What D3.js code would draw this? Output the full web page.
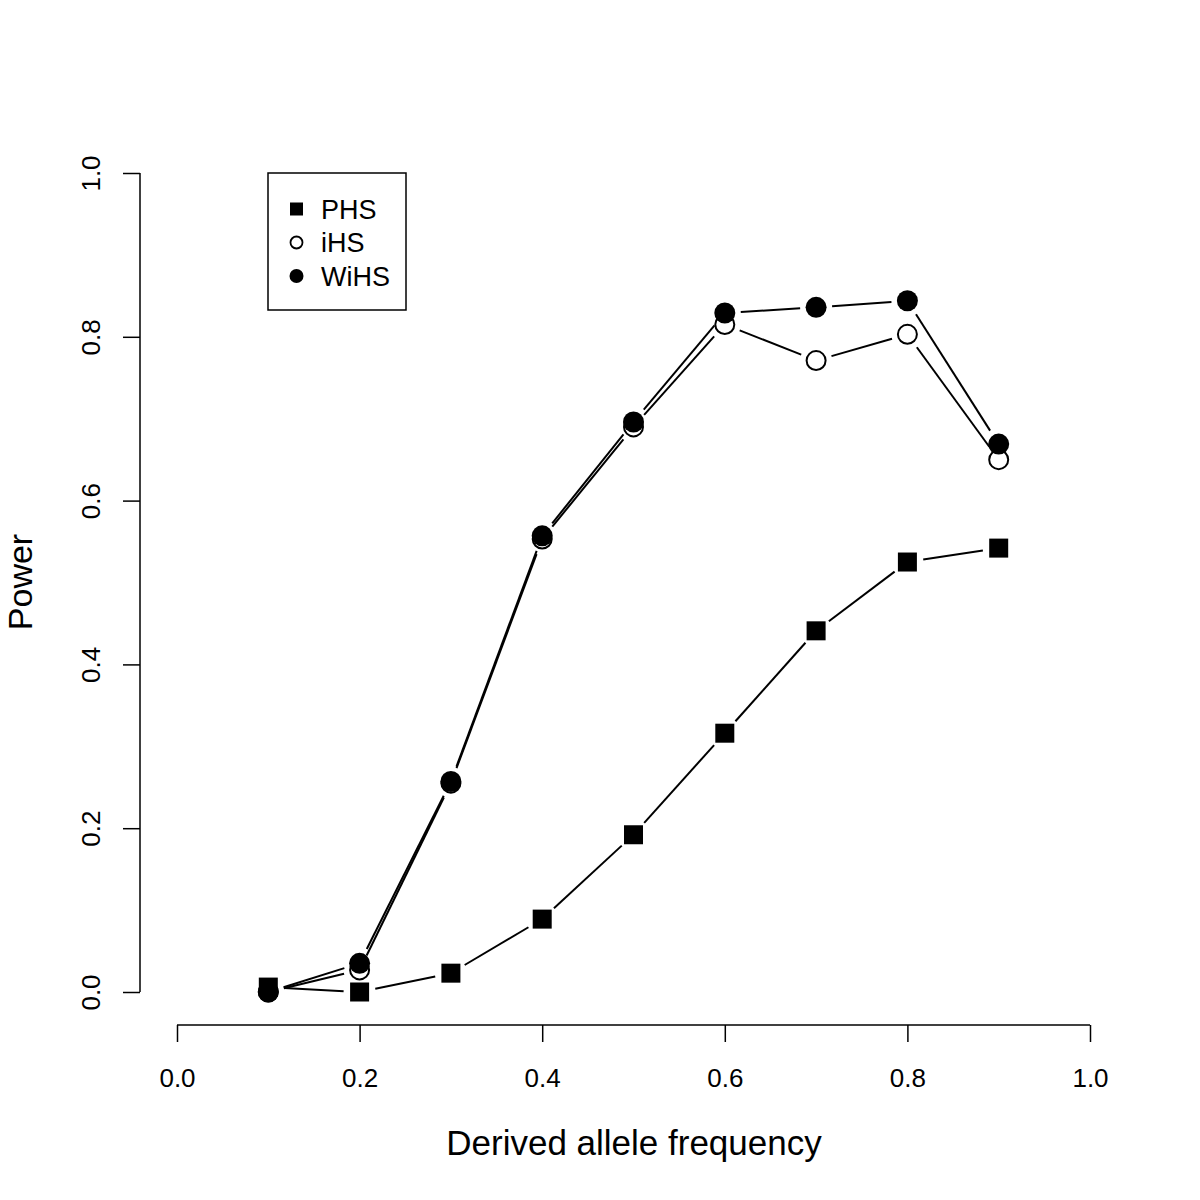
<!DOCTYPE html>
<html>
<head>
<meta charset="utf-8">
<script src="https://cdn.jsdelivr.net/npm/d3@7"></script>
<style>
  body { margin: 0; background: #fff; }
  svg text { font-family: "Liberation Sans", Arial, Helvetica, sans-serif; fill: #000; }
</style>
</head>
<body>
<svg id="chart"></svg>
<script>
// data
const freq = [0.1, 0.2, 0.3, 0.4, 0.5, 0.6, 0.7, 0.8, 0.9];
const phs  = [0.006, 0.0, 0.023, 0.089, 0.192, 0.316, 0.441, 0.525, 0.542];
const ihs  = [0.0, 0.027, 0.255, 0.553, 0.690, 0.815, 0.771, 0.803, 0.650];
const wihs = [0.0, 0.035, 0.257, 0.557, 0.696, 0.829, 0.836, 0.844, 0.669];
const xTicks = [0, 0.2, 0.4, 0.6, 0.8, 1.0];
const yTicks = [0, 0.2, 0.4, 0.6, 0.8, 1.0];
const seriesNames = ["PHS", "iHS", "WiHS"];

const canvasWidth = 1200;
const canvasHeight = 1200;

let svg = d3.select("#chart")
  .attr("width", canvasWidth)
  .attr("height", canvasHeight);

let x_scale = d3.scaleLinear().domain([0, 1]).range([177, 1090]);
let y_scale = d3.scaleLinear().domain([0, 1]).range([992, 173]);

// axes (R style: detached, no full frame)
let x_axis = d3.axisBottom(x_scale).tickValues(xTicks).tickSize(17).tickPadding(0).tickFormat(d3.format(".1f"));
let gx = svg.append("g").attr("transform", "translate(0,1025)").call(x_axis);
gx.select(".domain").attr("d", "M177,0H1090").attr("stroke", "#000").attr("stroke-width", 1.5);
gx.selectAll(".tick line").attr("stroke", "#000").attr("stroke-width", 1.5);
gx.selectAll(".tick text")
  .attr("y", 53)
  .attr("dy", "0.35em")
  .style("font-size", "26px");

let y_axis = d3.axisLeft(y_scale).tickValues(yTicks).tickSize(17).tickFormat(d3.format(".1f"));
let gy = svg.append("g").attr("transform", "translate(140,0)").call(y_axis);
gy.select(".domain").attr("d", "M0,173V992").attr("stroke", "#000").attr("stroke-width", 1.5);
gy.selectAll(".tick line").attr("stroke", "#000").attr("stroke-width", 1.5);
gy.selectAll(".tick text")
  .attr("x", 0).attr("dy", 0)
  .attr("text-anchor", "middle")
  .attr("dominant-baseline", "central")
  .attr("transform", "translate(-49,0) rotate(-90)")
  .style("font-size", "26px");

svg.append("text")
  .attr("x", 634).attr("y", 1155)
  .attr("text-anchor", "middle")
  .style("font-size", "35px")
  .text("Derived allele frequency");

svg.append("text")
  .attr("transform", "translate(32,582) rotate(-90)")
  .attr("text-anchor", "middle")
  .style("font-size", "34px")
  .text("Power");

// type "b": segments with gaps around the points
const gap = 16;
function drawGappedLine(values, cls) {
  let pts = freq.map((f, i) => [x_scale(f), y_scale(values[i])]);
  let segs = [];
  for (let i = 0; i < pts.length - 1; i++) {
    let [x1, y1] = pts[i], [x2, y2] = pts[i + 1];
    let len = Math.hypot(x2 - x1, y2 - y1);
    if (len <= 2 * gap) continue;
    let ux = (x2 - x1) / len, uy = (y2 - y1) / len;
    segs.push([x1 + ux * gap, y1 + uy * gap, x2 - ux * gap, y2 - uy * gap]);
  }
  svg.selectAll("." + cls)
    .data(segs).enter()
    .append("line")
    .attr("class", cls)
    .attr("x1", d => d[0]).attr("y1", d => d[1])
    .attr("x2", d => d[2]).attr("y2", d => d[3])
    .attr("stroke", "#000")
    .attr("stroke-width", 2);
}

// PHS: filled squares
drawGappedLine(phs, "phsline");
svg.selectAll(".phspt")
  .data(phs).enter()
  .append("rect")
  .attr("class", "phspt")
  .attr("x", (d, i) => x_scale(freq[i]) - 9.5)
  .attr("y", d => y_scale(d) - 9.5)
  .attr("width", 19).attr("height", 19)
  .attr("fill", "#000");

// iHS: open circles
drawGappedLine(ihs, "ihsline");
svg.selectAll(".ihspt")
  .data(ihs).enter()
  .append("circle")
  .attr("class", "ihspt")
  .attr("cx", (d, i) => x_scale(freq[i]))
  .attr("cy", d => y_scale(d))
  .attr("r", 9.5)
  .attr("fill", "none")
  .attr("stroke", "#000")
  .attr("stroke-width", 2);

// WiHS: filled circles
drawGappedLine(wihs, "wihsline");
svg.selectAll(".wihspt")
  .data(wihs).enter()
  .append("circle")
  .attr("class", "wihspt")
  .attr("cx", (d, i) => x_scale(freq[i]))
  .attr("cy", d => y_scale(d))
  .attr("r", 10.5)
  .attr("fill", "#000");

// legend
let legend = svg.append("g").attr("transform", "translate(268,173)");
legend.append("rect")
  .attr("x", 0).attr("y", 0)
  .attr("width", 138).attr("height", 137)
  .attr("fill", "none").attr("stroke", "#000").attr("stroke-width", 1.5);
let rows = legend.selectAll(".leg")
  .data(seriesNames).enter()
  .append("g")
  .attr("class", "leg")
  .attr("transform", (d, i) => `translate(0,${36 + i * 33.5})`);
rows.each(function(d, i) {
  let g = d3.select(this);
  if (i === 0) {
    g.append("rect").attr("x", 22).attr("y", -6.5).attr("width", 13).attr("height", 13).attr("fill", "#000");
  } else if (i === 1) {
    g.append("circle").attr("cx", 28.5).attr("cy", 0).attr("r", 6).attr("fill", "none").attr("stroke", "#000").attr("stroke-width", 1.8);
  } else {
    g.append("circle").attr("cx", 28.5).attr("cy", 0).attr("r", 7).attr("fill", "#000");
  }
  g.append("text")
    .attr("x", 53).attr("y", 9.5)
    .style("font-size", "27px")
    .text(d);
});
</script>
</body>
</html>
